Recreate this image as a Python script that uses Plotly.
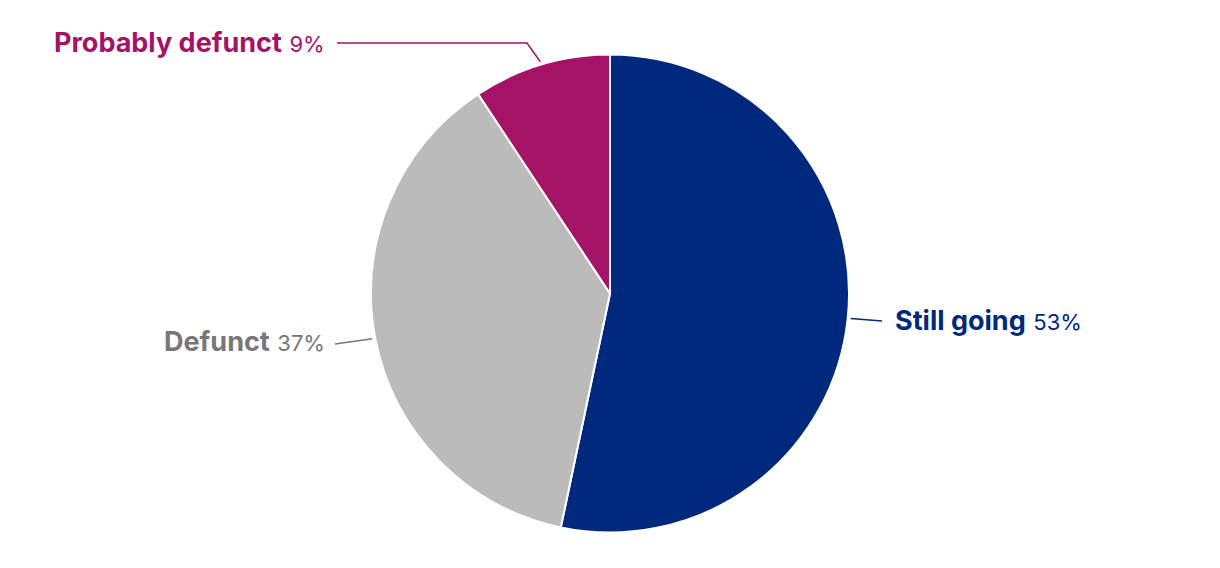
import math
import plotly.graph_objects as go

labels = ["Still going", "Defunct", "Probably defunct"]
values = [53.3, 37.4, 9.3]
slice_colors = ["#00287d", "#bbbbbb", "#a51366"]
text_colors = ["#00287d", "#777777", "#a51366"]

# page body has an 8px margin; figure sits at (8, 8)
OFF = 8
W, H = 1204, 552
cx, cy, R = 610, 293.5, 239

def px(x):
    return (x - OFF) / W

def py(y):
    return 1 - (y - OFF) / H

fig = go.Figure(go.Pie(
    labels=labels, values=values, sort=False, direction="clockwise", rotation=0,
    marker=dict(colors=slice_colors, line=dict(color="white", width=2)),
    textinfo="none", hoverinfo="label+percent", showlegend=False,
    domain=dict(x=[px(cx - R), px(cx + R)], y=[py(cy + R), py(cy - R)]),
))

total = sum(values)
cum = 0
mids = []
for v in values:
    mids.append((cum + v / 2) / total * 2 * math.pi)
    cum += v

# label layout: (leader points after the slice edge point, text anchor x, text y, xanchor)
label_layout = [
    ([(882, 321)], 893, 320, "left"),
    ([(335, 344)], 327, 341, "right"),
    ([(527, 43), (337, 43)], 327, 42, "right"),
]

shapes = []
annotations = []
for i, (lab, v) in enumerate(zip(labels, values)):
    a = mids[i]
    r0 = R + 3
    sx = cx + r0 * math.sin(a)
    sy = cy - r0 * math.cos(a)
    pts, tx, ty, anchor = label_layout[i]
    path = f"M {px(sx)} {py(sy)}" + "".join(f" L {px(x)} {py(y)}" for x, y in pts)
    shapes.append(dict(type="path", xref="paper", yref="paper", path=path,
                       line=dict(color=text_colors[i], width=1.5)))
    pct = round(v / total * 100)
    annotations.append(dict(
        xref="paper", yref="paper", x=px(tx), y=py(ty), xanchor=anchor, yanchor="middle",
        showarrow=False,
        text=f"<b>{lab}</b> <span style='font-size:22px'>{pct}%</span>",
        font=dict(family="Inter, sans-serif", size=27, color=text_colors[i]),
    ))

fig.update_layout(
    width=W, height=H, margin=dict(l=0, r=0, t=0, b=0),
    paper_bgcolor="white", plot_bgcolor="white",
    shapes=shapes, annotations=annotations,
)

fig.write_html("out.html")
